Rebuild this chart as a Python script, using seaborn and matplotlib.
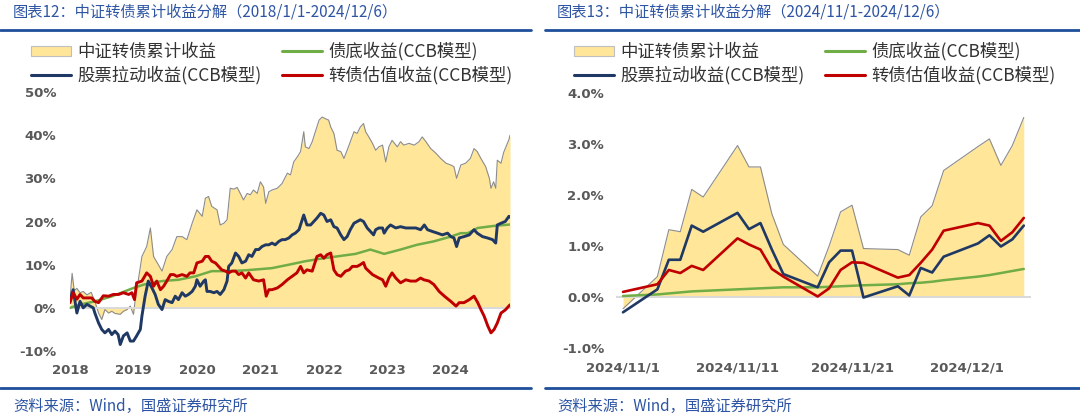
import matplotlib
matplotlib.use("Agg")
import matplotlib.pyplot as plt
import seaborn as sns
import pandas as pd
import numpy as np
from matplotlib.lines import Line2D
from matplotlib.patches import Patch
from matplotlib.ticker import FuncFormatter

# ---------------- data ----------------
# Left chart: (months since 2018-01-01, cumulative return %)
left_total = [(0, 2.0), (0.4, 8.0), (0.8, 4.0), (1.3, 4.5), (1.9, 3.5), (2.5, 3.8), (3.2, 3.0), (4.0, 3.6),
              (4.7, 1.5), (5.4, -1.2), (6.0, -2.7), (6.6, -0.4), (7.3, -1.2), (7.9, -0.8), (8.5, -1.3),
              (9.5, -1.5), (10.1, -0.8), (10.8, -0.4), (11.4, 0.4), (12.0, -1.5), (12.3, 1.5), (13.6, 11.9),
              (14.5, 14.2), (15.2, 18.5), (15.8, 11.9), (16.7, 10.0), (17.4, 8.5), (18.3, 11.9), (19.3, 13.5),
              (20.2, 16.5), (21.2, 16.5), (22.1, 15.8), (23.1, 19.6), (24.0, 22.7), (25.0, 21.2), (25.6, 25.4),
              (26.2, 25.8), (26.8, 23.5), (27.8, 22.7), (28.4, 19.2), (29.1, 19.6), (29.7, 20.4), (30.3, 27.7),
              (31.0, 27.5), (31.6, 27.9), (32.2, 26.5), (32.8, 25.0), (33.5, 26.5), (34.1, 26.2), (34.7, 27.3),
              (35.4, 26.5), (36.0, 29.2), (36.6, 28.0), (37.0, 24.2), (37.6, 26.9), (38.2, 27.3), (39.2, 27.7),
              (40.1, 28.8), (41.1, 31.2), (41.7, 30.8), (42.3, 33.8), (43.0, 35.0), (43.6, 36.2), (44.2, 40.8),
              (44.5, 37.3), (45.2, 36.9), (45.8, 38.5), (46.5, 41.2), (47.1, 43.5), (47.7, 44.2), (48.3, 43.8),
              (48.9, 43.5), (49.3, 41.9), (49.9, 40.4), (50.5, 36.5), (51.2, 36.2), (51.8, 34.6), (52.4, 36.5),
              (53.1, 38.8), (53.7, 40.8), (54.3, 40.4), (54.9, 41.9), (55.5, 42.7), (55.9, 40.8), (56.5, 39.6),
              (57.2, 38.1), (57.8, 36.5), (58.4, 37.3), (59.1, 37.7), (59.7, 33.8), (60.3, 37.3), (60.9, 38.8),
              (61.9, 37.3), (62.5, 38.5), (63.1, 37.7), (64.1, 38.1), (65.1, 37.7), (66.0, 38.5), (66.6, 39.6),
              (67.3, 38.5), (68.2, 36.9), (69.2, 35.8), (70.1, 34.6), (71.1, 33.5), (72.0, 33.1), (72.6, 32.7),
              (73.1, 30.0), (73.9, 33.1), (74.8, 33.5), (75.7, 34.6), (76.4, 36.9), (77.0, 36.2), (77.7, 34.6),
              (78.6, 32.7), (79.3, 30.0), (79.6, 27.7), (80.1, 29.2), (80.5, 27.7), (80.8, 34.2), (81.5, 33.5),
              (82.0, 36.0), (82.5, 37.5), (83.0, 39.0), (83.2, 40.0)]

left_stock = [(0, 1.9), (0.6, 4.2), (1.3, -1.2), (1.9, 1.5), (2.5, 0.0), (3.2, 0.8), (3.8, 0.4), (4.4, 0.0),
              (4.7, -1.2), (5.4, -3.5), (6.0, -5.0), (6.6, -5.8), (7.3, -5.0), (7.9, -6.2), (8.5, -5.4),
              (9.1, -6.2), (9.5, -8.5), (10.1, -6.5), (10.8, -5.8), (11.4, -7.7), (12.0, -7.7), (12.6, -6.5),
              (13.3, -5.0), (13.6, -1.9), (14.2, 2.7), (14.8, 6.2), (15.5, 4.6), (16.1, 3.1), (16.7, 0.8),
              (17.4, -0.4), (18.0, 1.9), (18.6, 1.5), (19.3, 1.2), (19.9, 2.7), (20.5, 1.9), (21.2, 3.5),
              (21.8, 2.7), (22.4, 3.1), (23.1, 3.8), (23.7, 5.0), (24.0, 6.5), (24.6, 5.0), (25.3, 6.2),
              (25.6, 6.5), (25.9, 3.8), (26.5, 3.8), (27.2, 3.5), (27.8, 3.8), (28.4, 3.1), (29.1, 4.2),
              (29.7, 6.2), (30.0, 9.6), (30.6, 10.4), (31.3, 12.7), (31.9, 11.9), (32.5, 10.4), (33.2, 10.8),
              (33.8, 12.3), (34.4, 11.9), (35.1, 13.5), (35.7, 13.5), (36.3, 14.2), (37.0, 14.6), (37.6, 14.6),
              (38.2, 15.0), (38.8, 14.6), (39.5, 15.4), (40.1, 15.8), (40.7, 15.8), (41.4, 16.2), (42.0, 16.9),
              (42.6, 17.3), (43.3, 18.1), (43.9, 20.4), (44.2, 21.5), (44.8, 19.2), (45.5, 19.2), (46.1, 20.0),
              (46.7, 20.8), (47.4, 21.9), (48.0, 21.5), (48.6, 20.0), (49.3, 20.4), (49.9, 18.8), (50.5, 18.5),
              (51.2, 16.9), (51.8, 15.8), (52.4, 16.5), (53.0, 18.1), (53.7, 19.6), (54.3, 20.0), (54.9, 20.4),
              (55.5, 20.0), (56.2, 18.5), (56.8, 17.7), (57.4, 16.9), (57.8, 18.1), (58.4, 18.5), (59.1, 18.5),
              (59.4, 17.3), (60.0, 18.5), (60.6, 19.2), (61.6, 18.5), (62.5, 18.8), (63.5, 18.5), (64.4, 18.5),
              (65.4, 18.5), (66.3, 18.1), (67.0, 19.2), (67.6, 18.1), (68.5, 17.7), (69.5, 17.3), (70.4, 16.9),
              (71.4, 17.3), (72.0, 16.5), (72.6, 16.2), (73.1, 14.2), (73.6, 16.2), (74.5, 16.5), (75.5, 16.9),
              (76.4, 18.1), (77.0, 17.3), (78.0, 16.5), (78.9, 16.2), (79.9, 15.8), (80.5, 15.0), (80.8, 19.2),
              (81.5, 19.6), (82.3, 20.0), (83.0, 21.2), (83.2, 21.0)]

left_bond = [(0, 0.0), (2, 0.8), (4.7, 1.5), (8, 2.7), (12, 4.6), (14, 5.4), (17.4, 6.2), (20.5, 6.5),
             (23.7, 7.3), (26.8, 8.5), (30, 8.5), (33.2, 8.7), (36.3, 9.0), (38.2, 9.2), (41.4, 10.0),
             (44.5, 10.8), (48, 11.5), (51, 12.0), (54, 12.5), (56.8, 13.5), (59.4, 12.5), (62.5, 13.5),
             (65.6, 14.6), (68.8, 15.4), (72, 16.5), (73.9, 17.3), (75.2, 17.3), (77.1, 18.5), (80.3, 19.0),
             (83.2, 19.3)]

left_val = [(0, 1.2), (0.6, 3.5), (1.3, 2.0), (1.9, 3.1), (2.5, 2.3), (3.5, 2.3), (4.1, 2.3), (4.7, 1.5),
            (5.4, 1.2), (6.3, 2.8), (7.3, 2.7), (8.2, 3.1), (9.2, 3.1), (10.1, 3.5), (11.1, 3.1), (11.7, 3.5),
            (12.2, 1.9), (12.6, 5.8), (13.6, 6.2), (14.5, 8.1), (15.2, 7.3), (15.8, 5.0), (16.4, 6.2),
            (17.1, 4.2), (17.7, 5.0), (18.3, 6.2), (19.0, 7.7), (19.6, 7.7), (20.2, 7.3), (21.2, 7.7),
            (22.1, 7.3), (22.7, 8.1), (23.4, 8.1), (24.0, 10.4), (25.0, 10.8), (25.6, 11.9), (26.2, 11.9),
            (26.8, 10.8), (27.5, 10.4), (28.1, 9.6), (28.7, 8.8), (29.4, 8.5), (30.0, 8.1), (30.6, 8.5),
            (31.3, 8.5), (31.9, 7.7), (32.5, 8.1), (33.2, 6.9), (33.8, 8.1), (34.7, 6.5), (35.7, 6.2),
            (36.6, 6.5), (37.1, 2.7), (37.6, 4.2), (38.2, 4.2), (39.2, 4.6), (40.1, 5.4), (41.1, 6.5),
            (42.0, 7.3), (42.9, 8.1), (43.6, 9.6), (44.2, 8.1), (44.8, 8.8), (45.8, 8.5), (46.7, 11.9),
            (47.4, 12.3), (48.0, 11.5), (48.6, 12.3), (49.3, 12.7), (49.9, 8.8), (50.5, 7.7), (51.2, 7.3),
            (52.1, 8.5), (52.8, 8.8), (53.4, 9.6), (54.3, 9.6), (54.9, 10.0), (55.5, 10.5), (55.9, 9.2),
            (56.5, 8.5), (57.2, 7.7), (57.8, 7.3), (58.4, 6.9), (59.1, 6.5), (59.7, 5.0), (60.3, 6.9),
            (60.9, 8.1), (61.6, 6.9), (62.5, 5.8), (63.5, 6.5), (64.4, 6.2), (65.4, 6.2), (66.3, 6.9),
            (66.9, 6.5), (67.9, 6.2), (68.8, 5.4), (69.8, 3.8), (70.8, 2.7), (72.0, 1.5), (73.0, 0.4),
            (73.6, 1.2), (74.5, 1.2), (75.5, 1.9), (76.4, 2.7), (77.1, 1.2), (77.7, -0.4), (78.3, -1.9),
            (79.0, -4.2), (79.6, -5.8), (80.2, -5.0), (80.8, -3.5), (81.5, -1.2), (82.3, -0.5), (83.2, 0.7)]

left_years = [2018, 2019, 2020, 2021, 2022, 2023, 2024]
left_yticks = [-10, 0, 10, 20, 30, 40, 50]

# Right chart: trading days 2024/11/1 - 2024/12/6 (%)
right_dates = ["2024-11-01", "2024-11-04", "2024-11-05", "2024-11-06", "2024-11-07", "2024-11-08",
               "2024-11-11", "2024-11-12", "2024-11-13", "2024-11-14", "2024-11-15",
               "2024-11-18", "2024-11-19", "2024-11-20", "2024-11-21", "2024-11-22",
               "2024-11-25", "2024-11-26", "2024-11-27", "2024-11-28", "2024-11-29",
               "2024-12-02", "2024-12-03", "2024-12-04", "2024-12-05", "2024-12-06"]
right_total = [-0.23, 0.40, 1.32, 1.28, 2.11, 1.96, 2.97, 2.55, 2.55, 1.63, 1.03, 0.41, 1.00, 1.67, 1.80,
               0.95, 0.93, 0.82, 1.57, 1.79, 2.48, 2.95, 3.10, 2.58, 2.97, 3.52]
right_stock = [-0.30, 0.15, 0.73, 0.73, 1.40, 1.28, 1.65, 1.33, 1.45, 0.93, 0.45, 0.19, 0.68, 0.91, 0.91,
               -0.01, 0.21, 0.03, 0.57, 0.48, 0.79, 1.05, 1.21, 0.99, 1.13, 1.40]
right_bond = [0.02, 0.05, 0.07, 0.09, 0.11, 0.12, 0.15, 0.16, 0.17, 0.18, 0.19, 0.19, 0.20, 0.21, 0.22,
              0.23, 0.25, 0.27, 0.28, 0.30, 0.33, 0.40, 0.43, 0.47, 0.51, 0.55]
right_val = [0.10, 0.25, 0.53, 0.47, 0.61, 0.53, 1.15, 1.03, 0.93, 0.55, 0.40, 0.01, 0.17, 0.53, 0.68,
             0.67, 0.38, 0.43, 0.67, 0.93, 1.30, 1.45, 1.40, 1.10, 1.27, 1.55]
right_xlabels = ["2024/11/1", "2024/11/11", "2024/11/21", "2024/12/1"]
right_yticks = [-1, 0, 1, 2, 3, 4]

legend_labels = ["中证转债累计收益", "债底收益(CCB模型)", "股票拉动收益(CCB模型)", "转债估值收益(CCB模型)"]
titles = ["图表12：中证转债累计收益分解（2018/1/1-2024/12/6）",
          "图表13：中证转债累计收益分解（2024/11/1-2024/12/6）"]
source = "资料来源：Wind，国盛证券研究所"

# ---------------- style ----------------
sns.set_theme(style="white")
plt.rcParams["font.family"] = ["Noto Sans CJK SC", "DejaVu Sans"]
plt.rcParams["axes.unicode_minus"] = False

C_FILL = "#FFE699"
C_EDGE = "#8C8C8C"
C_BLUE = "#1F3864"
C_GREEN = "#70AD47"
C_RED = "#C00000"
C_TICK = "#595959"
C_HEAD = "#1F4E9A"
C_TEXT = "#2E55A3"

W, H = 1080, 415
fig = plt.figure(figsize=(W / 100, H / 100), dpi=100)
fig.patch.set_facecolor("white")


def fx(px):
    return px / W


def fy(py):
    return 1 - py / H


def to_df(pairs):
    d = pd.DataFrame(pairs, columns=["m", "v"])
    d["x"] = 2018 + d["m"] / 12.0
    return d


def style_axis(ax, fmt, ypad):
    for s in ["top", "right", "left"]:
        ax.spines[s].set_visible(False)
    ax.spines["bottom"].set_position(("data", 0))
    ax.spines["bottom"].set_color("#D9D9D9")
    ax.spines["bottom"].set_linewidth(1.4)
    ax.set_facecolor("none")
    ax.grid(False)
    ax.tick_params(axis="x", which="both", direction="out", length=4, width=1, color="#D9D9D9",
                   labelbottom=False)
    ax.tick_params(axis="y", length=0, pad=ypad, labelcolor=C_TICK, labelsize=9.5)
    ax.yaxis.set_major_formatter(FuncFormatter(fmt))
    for lab in ax.get_yticklabels():
        lab.set_fontweight("bold")
        lab.set_family("DejaVu Sans")
    ax.set_xlabel("")
    ax.set_ylabel("")


def bottom_labels(ax, ticks, labels, pad):
    sec = ax.secondary_xaxis("bottom")
    sec.set_xticks(ticks)
    sec.set_xticklabels(labels)
    sec.spines["bottom"].set_visible(False)
    sec.tick_params(axis="x", length=0, pad=pad, labelcolor=C_TICK, labelsize=9.5)
    for lab in sec.get_xticklabels():
        lab.set_fontweight("bold")
        lab.set_family("DejaVu Sans")
    return sec


# ---------------- left chart ----------------
axL = fig.add_axes([fx(70), fy(351), fx(510) - fx(70), fy(92) - fy(351)])
tot = to_df(left_total)
axL.fill_between(tot["x"], 0, tot["v"], color=C_FILL, linewidth=0, zorder=1)
sns.lineplot(data=tot, x="x", y="v", ax=axL, color=C_EDGE, linewidth=0.8, zorder=2)
sns.lineplot(data=to_df(left_bond), x="x", y="v", ax=axL, color=C_GREEN, linewidth=1.8, zorder=3)
sns.lineplot(data=to_df(left_stock), x="x", y="v", ax=axL, color=C_BLUE, linewidth=2.1, zorder=4)
sns.lineplot(data=to_df(left_val), x="x", y="v", ax=axL, color=C_RED, linewidth=2.1, zorder=5)
axL.set_xlim(2018.0, 2018 + 83.2 / 12)
axL.set_ylim(-10, 50)
axL.set_yticks(left_yticks)
axL.set_xticks(left_years)
style_axis(axL, lambda v, p: f"{v:.0f}%", 10)
bottom_labels(axL, left_years, [str(y) for y in left_years], 9)

# ---------------- right chart ----------------
rd = pd.to_datetime(pd.Series(right_dates))
rday = (rd - rd.iloc[0]).dt.days.astype(float)
rdf = pd.DataFrame({"d": rday, "total": right_total, "stock": right_stock,
                    "bond": right_bond, "val": right_val})
axR = fig.add_axes([fx(617.3), fy(348), fx(1029.5) - fx(617.3), fy(93) - fy(348)])
axR.fill_between(rdf["d"], 0, rdf["total"], color=C_FILL, linewidth=0, zorder=1)
sns.lineplot(data=rdf, x="d", y="total", ax=axR, color=C_EDGE, linewidth=0.8, zorder=2)
sns.lineplot(data=rdf, x="d", y="bond", ax=axR, color=C_GREEN, linewidth=1.8, zorder=3)
sns.lineplot(data=rdf, x="d", y="stock", ax=axR, color=C_BLUE, linewidth=1.9, zorder=4)
sns.lineplot(data=rdf, x="d", y="val", ax=axR, color=C_RED, linewidth=1.9, zorder=5)
axR.set_xlim(-0.5, 35.5)
axR.set_ylim(-1, 4)
axR.set_yticks(right_yticks)
axR.set_xticks([-0.5, 9.5, 19.5, 29.5])
style_axis(axR, lambda v, p: f"{v:.1f}%", 9.5)
bottom_labels(axR, [0, 10, 20, 30], right_xlabels, 9.5)

# ---------------- legends ----------------
handles = [Patch(facecolor=C_FILL, edgecolor="#BFBFBF", linewidth=0.8),
           Line2D([], [], color=C_BLUE, lw=2.2),
           Line2D([], [], color=C_GREEN, lw=2.2),
           Line2D([], [], color=C_RED, lw=2.2)]
labels = [legend_labels[0], legend_labels[2], legend_labels[1], legend_labels[3]]
for x0 in (31, 574):
    fig.legend(handles, labels, ncol=2, loc="upper left",
               bbox_to_anchor=(fx(x0), fy(42)), bbox_transform=fig.transFigure,
               frameon=False, fontsize=12.5, handlelength=2.3, handleheight=0.5,
               handletextpad=0.35, columnspacing=1.2, labelspacing=0.3,
               borderpad=0, borderaxespad=0, labelcolor="#333333")

# ---------------- titles, rules, source ----------------
for x0, t in zip((13, 557), titles):
    fig.text(fx(x0), fy(12), t, fontsize=11, color=C_TEXT, ha="left", va="center")
    fig.text(fx(x0), fy(406), source, fontsize=11, color=C_TEXT, ha="left", va="center")
for (a, b) in ((0, 531), (545, 1080)):
    fig.add_artist(Line2D([fx(a), fx(b)], [fy(30), fy(30)], color=C_HEAD, lw=2.0))
    fig.add_artist(Line2D([fx(a), fx(b)], [fy(388), fy(388)], color=C_HEAD, lw=2.0))

fig.savefig("out.png", dpi=100, facecolor="white")
